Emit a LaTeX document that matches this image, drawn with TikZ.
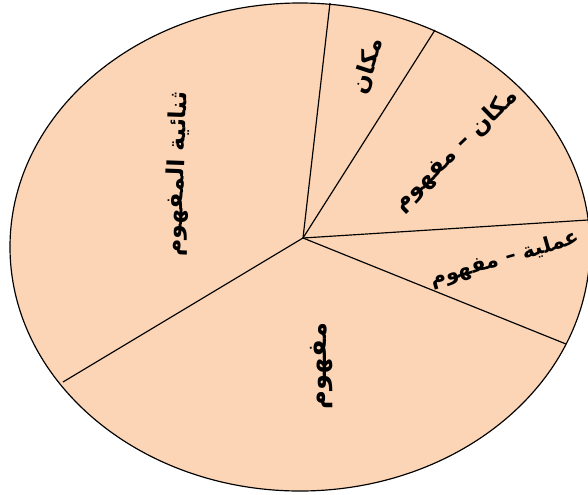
\documentclass[tikz,border=0pt]{standalone}
\usepackage{fontspec}
\usepackage{xcolor}
\usepackage{tikz}
\usetikzlibrary{positioning}
\TeXXeTstate=1
\newfontfamily\arabicfont[Script=Arabic]{DejaVu Sans}
\definecolor{slicefill}{RGB}{251,213,181}
\tikzset{
  lbl/.style={font=\arabicfont\bfseries\fontsize{20}{24}\selectfont,inner sep=0pt},
  spoke/.style={line width=1pt}
}
\begin{document}
\begin{tikzpicture}[x=0.03cm,y=-0.03cm]
  \useasboundingbox (0,0) rectangle (588,494);
  \begin{scope}
    \clip (0,0) rectangle (588,494);
    \draw[spoke,fill=slicefill] (300,247) ellipse [x radius=290, y radius=244];
  \end{scope}
  \coordinate (o) at (303,238);
  \coordinate (r1) at (330,3); \coordinate (r2) at (435,30);
  \coordinate (r3) at (588,220); \coordinate (r4) at (566,344);
  \coordinate (r5) at (63,382);
  \foreach \p in {r1,r2,r3,r4,r5} \draw[spoke] (o) -- (\p);
  % slice labels
  \node[lbl,rotate=72] (makan) at (368,66) {\beginR مكان\endR};
  \node[lbl,rotate=44] (makanmafhum) at (456,150) {\beginR مكان – مفهوم\endR};
  \node[lbl,rotate=16,font=\arabicfont\bfseries\fontsize{18}{22}\selectfont] (amaliya) at (505,259) {\beginR عملية – مفهوم\endR};
  \node[lbl,rotate=90,font=\arabicfont\bfseries\fontsize{22}{26}\selectfont] (mafhum) at (322,366) {\beginR مفهوم\endR};
  \node[lbl,rotate=88] (thunaiya) at (178,174) {\beginR ثنائية المفهوم\endR};
\end{tikzpicture}
\end{document}
